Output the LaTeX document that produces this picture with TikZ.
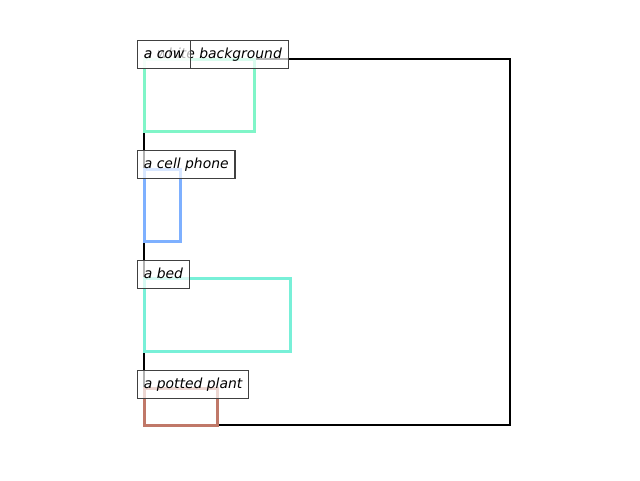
\documentclass[tikz,border=0pt]{standalone}
\usepackage{fontspec}
\setmainfont{DejaVu Sans}
\definecolor{cowc}{RGB}{128,245,200}
\definecolor{phonec}{RGB}{126,176,255}
\definecolor{bedc}{RGB}{120,240,216}
\definecolor{plantc}{RGB}{192,120,104}
\tikzset{tag/.style={draw=black!75, line width=1.2pt, fill=white, fill opacity=.7, text opacity=1,
  anchor=north west, inner xsep=6.3pt, inner ysep=7pt, text height=11pt, text depth=3pt,
  font=\fontsize{13.9}{16}\selectfont\itshape}}
\begin{document}
\begin{tikzpicture}[x=1pt, y=-1pt]
\useasboundingbox (0,0) rectangle (640,480);
\draw[line width=2.2pt] (144,59) rectangle (510,425);
\draw[cowc, line width=3pt] (144,59) rectangle (254,131);
\draw[phonec, line width=3pt] (144,169) rectangle (180,241);
\draw[bedc, line width=3pt] (144,278) rectangle (290,351);
\draw[plantc, line width=3pt] (144,388) rectangle (217,425);
\node[tag] (bg) at (137,40) {a white background};
\node[tag] (cow) at (137,40) {a cow};
\node[tag] (phone) at (137,150) {a cell phone};
\node[tag] (bed) at (137,260) {a bed};
\node[tag] (plant) at (137,370) {a potted plant};
\end{tikzpicture}
\end{document}
